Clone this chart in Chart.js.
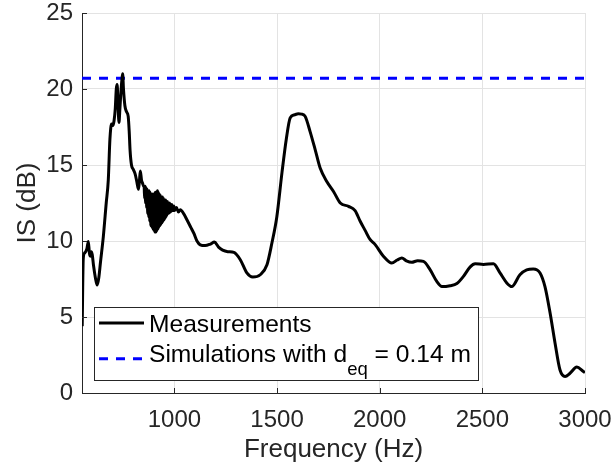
<!DOCTYPE html>
<html>
<head>
<meta charset="utf-8">
<script src="https://cdn.jsdelivr.net/npm/chart.js@4/dist/chart.umd.min.js"></script>
<style>
  html, body { margin: 0; padding: 0; background: #fff; }
  #wrap { width: 615px; height: 465px; }
</style>
</head>
<body>
<div id="wrap"><canvas id="isChart" width="615" height="465"></canvas></div>
<script>
// IS (dB) gemessen vs. Simulation

const measFreq = [
  551, 556, 562, 568, 574, 581, 586, 590, 595, 600, 606, 615, 624, 632, 640, 654, 668, 678, 686, 694,
  700, 706, 712, 717, 721, 725, 730, 735, 740, 745, 748, 752, 759, 767, 775, 780, 784, 791, 800, 809,
  817, 825, 830, 834, 840, 845, 850,
  852.5, 855, 857.5, 860, 862.5, 865, 867.5, 870, 872.5, 875, 877.5, 880, 882.5, 885, 887.5, 890,
  892.5, 895, 897.5, 900, 902.5, 905, 907.5, 910, 912.5, 915, 917.5, 920, 922.5, 925, 927.5, 930,
  932.5, 935, 937.5, 940, 942.5, 945, 947.5, 950, 952.5, 955, 957.5, 960, 962.5, 965, 967.5, 970,
  972.5, 975, 977.5, 980, 982.5, 985, 987.5, 990, 992.5, 995, 997.5, 1000,
  1010, 1020, 1029,
  1045, 1061, 1080, 1095, 1110, 1126, 1150, 1175, 1195, 1215, 1235, 1260, 1290, 1321, 1353, 1382, 1418,
  1451, 1475, 1499, 1524, 1545, 1564, 1585, 1604, 1620, 1637, 1661, 1686, 1710, 1743, 1775, 1808, 1848,
  1880, 1905, 1929, 1953, 1978, 2018, 2059, 2085, 2108, 2130, 2156, 2185, 2213, 2246, 2278, 2303, 2343,
  2376, 2408, 2441, 2465, 2505, 2554, 2586, 2619, 2643, 2683, 2716, 2748, 2781, 2805, 2830, 2854, 2878,
  2903, 2927, 2960, 2992, 3000
];
const measLevel = [
  4.4, 8.8, 9.2, 9.3, 9.5, 9.97, 9.2, 9.0, 9.3, 9.1, 8.4, 7.6, 7.1, 7.6, 8.6, 10.3, 12.5, 14.0, 16.7, 17.7,
  17.6, 17.9, 18.7, 20.0, 20.3, 19.2, 17.8, 18.8, 19.9, 20.7, 21.0, 20.0, 18.9, 18.5, 18.2, 17.2, 16.0, 15.0, 14.7, 14.4,
  13.9, 13.4, 14.0, 14.6, 14.0, 13.8, 13.6,
  13.6, 12.8, 13.6, 12.5, 13.5, 12.2, 13.4, 11.8, 13.3, 11.6, 13.3, 11.3, 13.2, 11.0, 13.1, 10.9,
  13.1, 10.8, 13.1, 10.7, 13.1, 10.6, 13.2, 10.6, 13.2, 10.7, 13.3, 10.8, 13.2, 10.9, 13.1, 11.0,
  13.0, 11.1, 12.9, 11.2, 12.9, 11.3, 12.8, 11.4, 12.7, 11.5, 12.7, 11.6, 12.6, 11.7, 12.6, 11.8,
  12.5, 11.85, 12.5, 11.9, 12.4, 11.95, 12.4, 12.0, 12.3, 12.0, 12.3, 12.0,
  12.2, 11.9, 12.06,
  11.8, 11.4, 10.9, 10.5, 10.0, 9.75, 9.7, 9.8, 9.93, 9.6, 9.4, 9.3, 9.25, 8.77, 7.9, 7.63, 7.78,
  8.44, 9.87, 11.6, 14.5, 16.7, 18.1, 18.3, 18.37, 18.35, 18.2, 17.2, 16.0, 14.8, 13.9, 13.26, 12.5, 12.28,
  12.0, 11.3, 10.7, 10.1, 9.76, 9.0, 8.55, 8.75, 8.88, 8.7, 8.6, 8.7, 8.66, 8.1, 7.34, 7.0, 7.06,
  7.2, 7.67, 8.3, 8.5, 8.46, 8.5, 7.9, 7.24, 7.0, 7.78, 8.1, 8.16, 7.9, 7.0, 5.26, 3.29, 1.53,
  1.09, 1.3, 1.71, 1.42, 1.35
];

const simFreq = [550, 3000];
const simLevel = [20.7, 20.7];

const xTicks = [1000, 1500, 2000, 2500, 3000];
const yTicks = [0, 5, 10, 15, 20, 25];

const toPoints = (xs, ys) => xs.map((x, i) => ({ x: x, y: ys[i] }));

Chart.defaults.font.family = "'Liberation Sans', Arial, sans-serif";
Chart.defaults.color = "#262626";

// MATLAB-artige Ticks (nach innen) + Legende im Plot
const matlabStyle = {
  id: "matlabStyle",
  afterDraw(chart) {
    const ctx = chart.ctx;
    const ca = chart.chartArea;
    const xs = chart.scales.x, ys = chart.scales.y;

    ctx.save();
    ctx.strokeStyle = "#262626";
    ctx.lineWidth = 1;
    ctx.beginPath();
    xTicks.forEach(v => {
      const px = Math.round(xs.getPixelForValue(v)) + 0.5;
      ctx.moveTo(px, ca.bottom);
      ctx.lineTo(px, ca.bottom - 5);
    });
    yTicks.forEach(v => {
      const py = Math.round(ys.getPixelForValue(v)) + 0.5;
      ctx.moveTo(ca.left, py);
      ctx.lineTo(ca.left + 5, py);
    });
    ctx.stroke();

    // Legende
    const fontMain = "24.6px 'Liberation Sans', Arial, sans-serif";
    const fontSub = "18.5px 'Liberation Sans', Arial, sans-serif";
    const left = ca.left + 12;
    const top = ca.bottom - 85.6;
    const height = 72.6;
    const textX = left + 55;

    const items = chart.data.datasets.map(ds => {
      const m = ds.label.match(/^(.*?)_(\w+)(.*)$/);
      return m ? { base: m[1], sub: m[2], rest: m[3], ds: ds } : { base: ds.label, sub: "", rest: "", ds: ds };
    });

    let maxW = 0;
    items.forEach(it => {
      ctx.font = fontMain;
      let w = ctx.measureText(it.base).width + ctx.measureText(it.rest).width;
      ctx.font = fontSub;
      w += ctx.measureText(it.sub).width;
      maxW = Math.max(maxW, w);
    });
    const width = textX - left + maxW + 7;

    ctx.fillStyle = "#ffffff";
    ctx.fillRect(left, top, width, height);
    ctx.strokeStyle = "#262626";
    ctx.lineWidth = 1;
    ctx.strokeRect(Math.round(left) + 0.5, Math.round(top) + 0.5, Math.round(width), Math.round(height));

    const rows = [
      { line: top + 15.6, base: top + 24.5 },
      { line: top + 51.3, base: top + 54.3 }
    ];
    items.forEach((it, i) => {
      const r = rows[i];
      ctx.strokeStyle = it.ds.borderColor;
      ctx.lineWidth = it.ds.borderWidth;
      ctx.setLineDash(it.ds.borderDash || []);
      ctx.beginPath();
      ctx.moveTo(left + 5, r.line);
      ctx.lineTo(left + 50, r.line);
      ctx.stroke();
      ctx.setLineDash([]);

      ctx.fillStyle = "#000000";
      ctx.textBaseline = "alphabetic";
      ctx.textAlign = "left";
      ctx.font = fontMain;
      let x = textX;
      ctx.fillText(it.base, x, r.base);
      x += ctx.measureText(it.base).width;
      if (it.sub) {
        ctx.font = fontSub;
        ctx.fillText(it.sub, x, r.base + 13);
        x += ctx.measureText(it.sub).width;
        ctx.font = fontMain;
        ctx.fillText(it.rest, x, r.base);
      }
    });
    ctx.restore();
  }
};

new Chart(document.getElementById("isChart"), {
  type: "line",
  data: {
    datasets: [
      {
        label: "Measurements",
        data: toPoints(measFreq, measLevel),
        borderColor: "#000000",
        borderWidth: 3,
        pointRadius: 0,
        tension: 0,
        cubicInterpolationMode: "monotone"
      },
      {
        label: "Simulations with d_eq = 0.14 m",
        data: toPoints(simFreq, simLevel),
        borderColor: "#0000ff",
        borderWidth: 3,
        borderDash: [9, 8],
        pointRadius: 0
      }
    ]
  },
  options: {
    responsive: false,
    animation: false,
    layout: { padding: { left: 0, right: 30, top: 13, bottom: 0 } },
    plugins: {
      legend: { display: false },
      tooltip: { enabled: false }
    },
    scales: {
      x: {
        type: "linear",
        min: 550,
        max: 3000,
        afterBuildTicks: s => { s.ticks = xTicks.map(v => ({ value: v })); },
        afterFit: s => { s.height = 72; s.paddingLeft = 0; s.paddingRight = 0; },
        grid: { color: "#e3e3e3", drawTicks: false },
        border: { color: "#262626", width: 1 },
        ticks: { padding: 13, maxRotation: 0, font: { size: 24 }, color: "#262626", callback: v => String(v) },
        title: { display: true, text: "Frequency (Hz)", font: { size: 26 }, color: "#262626", padding: { top: 0, bottom: 0 } }
      },
      y: {
        min: 0,
        max: 25,
        afterBuildTicks: s => { s.ticks = yTicks.map(v => ({ value: v })); },
        afterFit: s => { s.width = 82; s.paddingTop = 0; s.paddingBottom = 0; },
        grid: { color: "#e3e3e3", drawTicks: false },
        border: { color: "#262626", width: 1 },
        ticks: { padding: 9, font: { size: 24 }, color: "#262626", callback: v => String(v) },
        title: { display: true, text: "IS (dB)", font: { size: 26 }, color: "#262626", padding: { top: 12, bottom: 0 } }
      }
    }
  },
  plugins: [matlabStyle]
});
</script>
</body>
</html>
